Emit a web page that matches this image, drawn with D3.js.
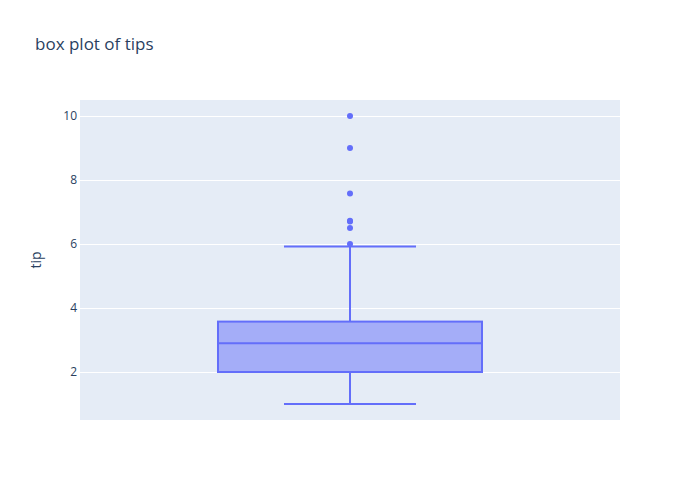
<!DOCTYPE html>
<html><head><meta charset="utf-8">
<script src="https://cdn.jsdelivr.net/npm/d3@7"></script>
<style>body{margin:0;background:#fff}</style>
</head><body>
<svg id="c" width="700" height="500"></svg>
<script>
const categories = ["tip"];
const q1 = [2.0];
const median = [2.9];
const q3 = [3.575];
const lowerFence = [1.0];
const upperFence = [5.92];
const outliers = [10.0, 9.0, 7.58, 6.73, 6.7, 6.5, 6.0];
const yTicks = [2, 4, 6, 8, 10];

const W = 700, H = 500, m = {l: 80, r: 80, t: 100, b: 80};
const svg = d3.select("#c");
const font = '"Open Sans", verdana, arial, sans-serif';
const color = "#636efa";

const x = d3.scaleBand().domain(categories).range([m.l, W - m.r]).paddingInner(0).paddingOuter(0.5227);
const y = d3.scaleLinear().domain([0.5, 10.5]).range([H - m.b, m.t]);

svg.append("rect").attr("x", m.l).attr("y", m.t).attr("width", W - m.l - m.r).attr("height", H - m.t - m.b).attr("fill", "#e5ecf6");

const yAxis = d3.axisLeft(y).tickValues(yTicks).tickSize(-(W - m.l - m.r)).tickPadding(3);
const gy = svg.append("g").attr("transform", `translate(${m.l},0)`).call(yAxis);
gy.select(".domain").remove();
gy.selectAll(".tick line").attr("stroke", "#fff").attr("stroke-width", 1);
gy.selectAll(".tick text").attr("fill", "#2a3f5f").style("font-family", font).style("font-size", "12px").attr("x", -3);

svg.append("text").attr("transform", `translate(41,${(m.t + H - m.b) / 2}) rotate(-90)`)
  .attr("text-anchor", "middle").attr("fill", "#2a3f5f").style("font-family", font).style("font-size", "14px").text("tip");

svg.append("text").attr("x", 35).attr("y", 50).attr("fill", "#2a3f5f").style("font-family", font).style("font-size", "17px").text("box plot of tips");

const g = svg.append("g");
categories.forEach((c, i) => {
  const x0 = x(c), bw = x.bandwidth(), cx = x0 + bw / 2;
  const capW = bw / 2;
  g.append("rect").attr("x", x0).attr("y", y(q3[i])).attr("width", bw).attr("height", y(q1[i]) - y(q3[i]))
    .attr("fill", "rgba(99,110,250,0.5)").attr("stroke", color).attr("stroke-width", 2);
  g.append("line").attr("x1", x0).attr("x2", x0 + bw).attr("y1", y(median[i])).attr("y2", y(median[i])).attr("stroke", color).attr("stroke-width", 2);
  g.append("line").attr("x1", cx).attr("x2", cx).attr("y1", y(q3[i])).attr("y2", y(upperFence[i])).attr("stroke", color).attr("stroke-width", 2);
  g.append("line").attr("x1", cx).attr("x2", cx).attr("y1", y(q1[i])).attr("y2", y(lowerFence[i])).attr("stroke", color).attr("stroke-width", 2);
  g.append("line").attr("x1", cx - capW / 2).attr("x2", cx + capW / 2).attr("y1", y(upperFence[i])).attr("y2", y(upperFence[i])).attr("stroke", color).attr("stroke-width", 2);
  g.append("line").attr("x1", cx - capW / 2).attr("x2", cx + capW / 2).attr("y1", y(lowerFence[i])).attr("y2", y(lowerFence[i])).attr("stroke", color).attr("stroke-width", 2);
  g.selectAll(".o").data(outliers).enter().append("circle").attr("cx", cx).attr("cy", d => y(d)).attr("r", 3).attr("fill", color);
});
</script>
</body></html>
